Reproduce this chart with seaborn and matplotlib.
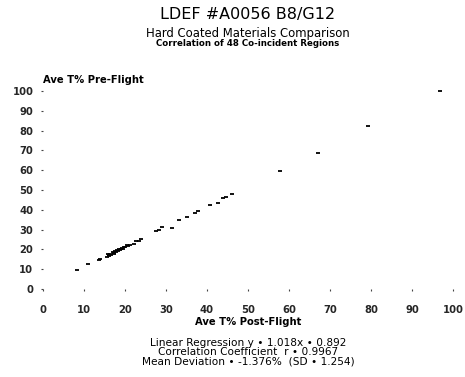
import matplotlib
matplotlib.use("Agg")
import matplotlib.pyplot as plt
import seaborn as sns
import pandas as pd

post_flight = [8.4, 11.0, 13.7, 14.0, 15.6, 15.9, 16.1, 16.4, 16.7, 17.0, 17.2, 17.5,
               17.8, 18.0, 18.3, 18.6, 18.9, 19.2, 19.5, 19.8, 20.1, 20.4, 20.8, 21.2,
               22.3, 22.8, 23.3, 23.8, 27.5, 28.2, 29.0, 31.5, 33.2, 35.2, 37.0, 37.8,
               40.7, 42.8, 44.0, 44.6, 46.0, 57.8, 67.0, 79.3, 96.8, 16.0, 17.3, 19.0]
pre_flight = [9.6, 12.4, 14.6, 14.9, 16.4, 17.5, 16.6, 17.9, 17.3, 18.6, 17.8, 19.0,
              18.7, 19.6, 19.2, 20.1, 19.8, 20.7, 20.3, 21.3, 21.0, 22.0, 21.6, 22.4,
              22.9, 24.1, 24.0, 25.2, 29.3, 30.0, 31.2, 31.0, 34.8, 36.4, 38.6, 39.4,
              42.4, 43.6, 46.0, 46.7, 48.0, 59.7, 68.8, 82.3, 100.2, 17.0, 18.3, 20.4]
ticks = [0, 10, 20, 30, 40, 50, 60, 70, 80, 90, 100]

title = "LDEF #A0056 B8/G12"
subtitle = "Hard Coated Materials Comparison"
subsubtitle = "Correlation of 48 Co-incident Regions"
ylabel = "Ave T% Pre-Flight"
xlabel = "Ave T% Post-Flight"
stats_lines = ["Linear Regression y \u2022 1.018x \u2022 0.892",
               "Correlation Coefficient  r \u2022 0.9967",
               "Mean Deviation \u2022 -1.376%  (SD \u2022 1.254)"]

df = pd.DataFrame({"post": post_flight, "pre": pre_flight})

sns.set_theme(style="white")
plt.rcParams["font.family"] = ["DejaVu Sans"]

W, H = 465, 377
fig = plt.figure(figsize=(W / 100, H / 100), dpi=100)
ax = fig.add_axes([43 / W, 1 - 289 / H, 410 / W, 198 / H])

sns.scatterplot(data=df, x="post", y="pre", ax=ax, marker="_", s=7,
                color="black", linewidth=1.3, clip_on=False, legend=False)

ax.set_xlim(0, 100)
ax.set_ylim(0, 100)
ax.set_xticks(ticks)
ax.set_yticks(ticks)
ax.set_xticklabels([str(t) for t in ticks], fontsize=7.2, fontweight="bold")
ax.set_yticklabels([str(t) for t in ticks], fontsize=7.2, fontweight="bold")
ax.tick_params(axis="both", which="both", length=1.5, width=0.8, color="#444444",
               direction="out", bottom=True, left=True)
ax.tick_params(axis="x", pad=10)
ax.tick_params(axis="y", pad=5.5)
for s in ax.spines.values():
    s.set_visible(False)
ax.set_xlabel("")
ax.set_ylabel("")

def fy(py):
    return 1 - py / H

cx = 248 / W
fig.text(cx, fy(15), title, ha="center", va="center", fontsize=11.5, color="black")
fig.text(cx, fy(33), subtitle, ha="center", va="center", fontsize=8.4, color="black")
fig.text(cx, fy(44), subsubtitle, ha="center", va="center", fontsize=6.2,
         fontweight="bold", color="black")
fig.text(43 / W, fy(80), ylabel, ha="left", va="center", fontsize=7.2,
         fontweight="bold", color="black")
fig.text(cx, fy(322), xlabel, ha="center", va="center", fontsize=7.2,
         fontweight="bold", color="black")
for i, line in enumerate(stats_lines):
    fig.text(cx, fy(343 + 9 * i), line, ha="center", va="center", fontsize=7.6,
             color="black")

fig.savefig("out.png", dpi=100, facecolor="white")
